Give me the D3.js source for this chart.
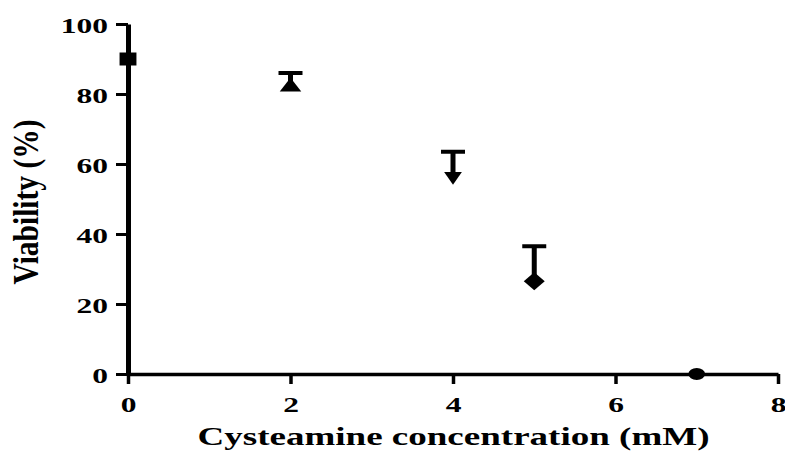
<!DOCTYPE html>
<html>
<head>
<meta charset="utf-8">
<script src="https://cdn.jsdelivr.net/npm/d3@7/dist/d3.min.js"></script>
<style>
    body { margin: 0; background: #fff; }
    svg text { font-family: "Liberation Serif", "Times New Roman", serif; font-weight: bold; fill: #000; }
</style>
</head>
<body>
<svg id="chart" width="785" height="453"></svg>
<script>
var concentrations = [0, 2, 4, 5, 7];
var viability = [90, 82, 56.5, 26.5, 0];
var errorUp = [0, 4, 7, 10, 0];
var markerShapes = ["square", "triangle", "triangleDown", "diamond", "circle"];
var xTicks = [0, 2, 4, 6, 8];
var yTicks = [0, 20, 40, 60, 80, 100];
var xTitle = "Cysteamine concentration (mM)";
var yTitle = "Viability (%)";

(function (d3) {
    var svg = d3.select("#chart");
    var stretch = 1.5; // the picture is wider than tall in every glyph

    var x = d3.scaleLinear().domain([0, 8]).range([128, 778]);
    var y = d3.scaleLinear().domain([0, 100]).range([374, 24]);

    // symbol settings: d3 symbol type, area, horizontal stretch, rotation
    var symbolSpec = {
        square:       { type: d3.symbolSquare,   size: 169, sx: 1.3, rot: 0 },
        triangle:     { type: d3.symbolTriangle, size: 110, sx: 1.35, rot: 0 },
        triangleDown: { type: d3.symbolTriangle, size: 95,  sx: 1.2, rot: 180 },
        diamond:      { type: d3.symbolDiamond,  size: 95,  sx: 2.0, rot: 0 },
        circle:       { type: d3.symbolCircle,   size: 113, sx: 1.4, rot: 0 }
    };

    //y axis
    var yAxis = svg.append("g")
        .attr("transform", `translate(${x(0)}, 0)`)
        .call(d3.axisLeft(y).tickValues(yTicks).tickSize(12).tickSizeOuter(0).tickPadding(0));
    yAxis.select(".domain").attr("stroke", "#000").attr("stroke-width", 5);
    yAxis.selectAll(".tick line").attr("stroke", "#000").attr("stroke-width", 3);
    yAxis.selectAll(".tick text")
        .attr("x", -13.3)
        .attr("dy", "0.4em")
        .attr("font-size", 21)
        .attr("transform", `scale(${stretch},1)`);

    //x axis
    var xAxis = svg.append("g")
        .attr("transform", `translate(0, ${y(0)})`)
        .call(d3.axisBottom(x).tickValues(xTicks).tickSize(10).tickSizeOuter(0).tickPadding(0));
    xAxis.select(".domain").attr("stroke", "#000").attr("stroke-width", 3.5);
    xAxis.selectAll(".tick line").attr("stroke", "#000").attr("stroke-width", 3.5);
    xAxis.selectAll(".tick text")
        .attr("y", 38)
        .attr("dy", 0)
        .attr("font-size", 21)
        .attr("transform", `scale(${stretch},1)`);

    var points = concentrations.map(function (c, i) {
        return { c: c, v: viability[i], e: errorUp[i], shape: markerShapes[i] };
    });

    //error bars (upper only)
    var bars = svg.append("g").selectAll("g")
        .data(points.filter(function (d) { return d.e > 0; }))
        .enter().append("g");
    bars.append("line")
        .attr("x1", function (d) { return x(d.c); })
        .attr("x2", function (d) { return x(d.c); })
        .attr("y1", function (d) { return y(d.v); })
        .attr("y2", function (d) { return y(d.v + d.e); })
        .attr("stroke", "#000")
        .attr("stroke-width", 5);
    bars.append("line")
        .attr("x1", function (d) { return x(d.c) - 12; })
        .attr("x2", function (d) { return x(d.c) + 12; })
        .attr("y1", function (d) { return y(d.v + d.e); })
        .attr("y2", function (d) { return y(d.v + d.e); })
        .attr("stroke", "#000")
        .attr("stroke-width", 4);

    //markers
    svg.append("g").selectAll("path")
        .data(points)
        .enter().append("path")
        .attr("d", function (d) {
            var s = symbolSpec[d.shape];
            return d3.symbol().type(s.type).size(s.size)();
        })
        .attr("transform", function (d) {
            var s = symbolSpec[d.shape];
            return `translate(${x(d.c)}, ${y(d.v)}) scale(${s.sx},1) rotate(${s.rot})`;
        })
        .attr("fill", "#000");

    //axis titles
    svg.append("text")
        .attr("x", (197 + 710) / 2)
        .attr("y", 445)
        .attr("text-anchor", "middle")
        .attr("font-size", 25)
        .attr("textLength", 512)
        .attr("lengthAdjust", "spacingAndGlyphs")
        .text(xTitle);

    svg.append("text")
        .attr("transform", `translate(38, ${(y(0) + y(100)) / 2 + 3}) scale(1.4,1) rotate(-90)`)
        .attr("text-anchor", "middle")
        .attr("font-size", 26)
        .attr("textLength", 165)
        .attr("lengthAdjust", "spacingAndGlyphs")
        .text(yTitle);

})(d3);
</script>
</body>
</html>
